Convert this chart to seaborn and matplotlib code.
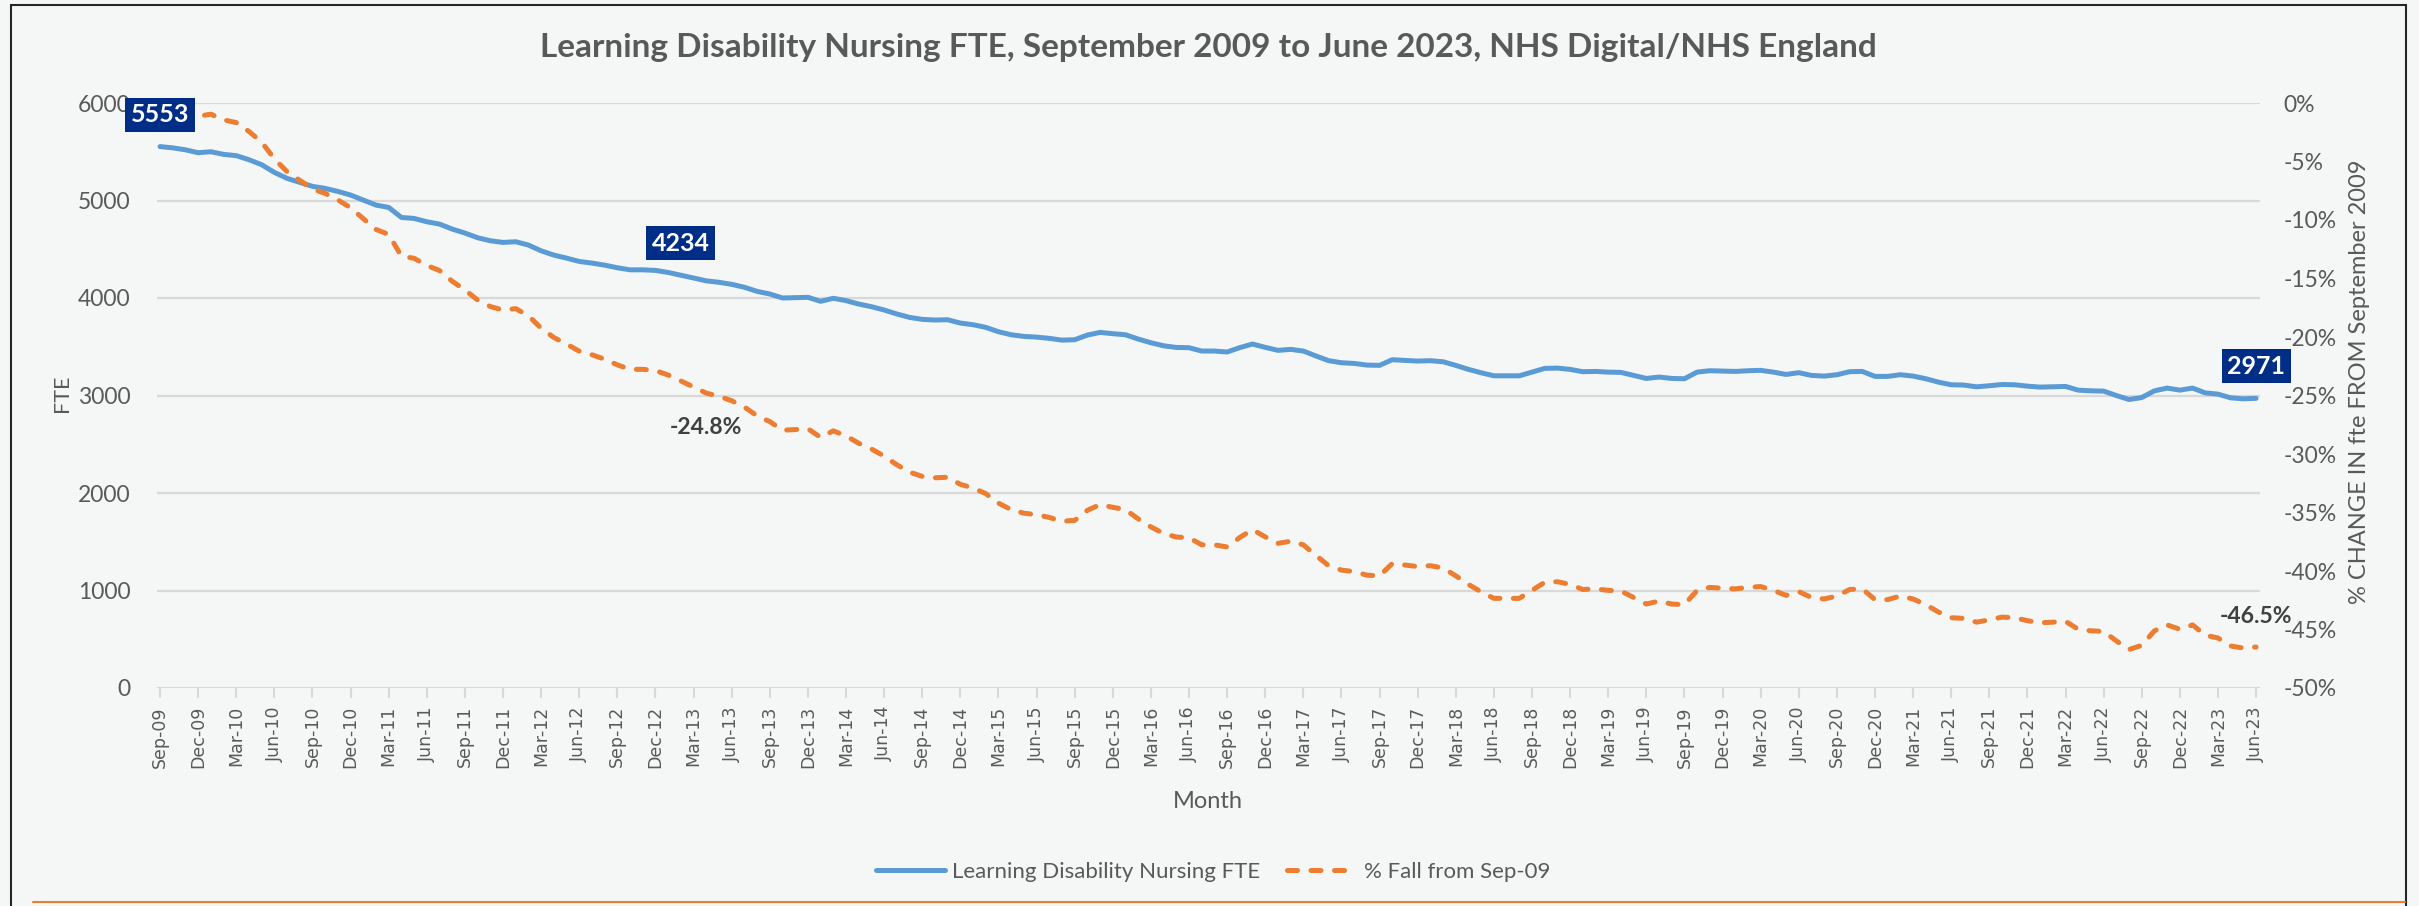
import numpy as np
import pandas as pd
import matplotlib
matplotlib.use("Agg")
import matplotlib.pyplot as plt
import seaborn as sns
from matplotlib.lines import Line2D
from matplotlib.patches import Rectangle

# ── DATA (monthly, Sep-09 .. Jun-23) ─────────────────────────────
fte = [
    5553, 5540, 5520, 5490, 5500, 5473, 5460, 5418, 5367, 5288, 5227, 5186,
    5145, 5124, 5093, 5056, 5004, 4953, 4929, 4826, 4816, 4782, 4758, 4707,
    4666, 4618, 4587, 4570, 4577, 4543, 4484, 4440, 4409, 4375, 4358, 4337,
    4310, 4289, 4289, 4283, 4262, 4234, 4205, 4176, 4161, 4140, 4110, 4068,
    4041, 4000, 4003, 4007, 3966, 3997, 3973, 3938, 3911, 3877, 3836, 3801,
    3781, 3774, 3777, 3743, 3726, 3699, 3654, 3623, 3606, 3599, 3586, 3568,
    3572, 3620, 3647, 3634, 3623, 3579, 3541, 3510, 3493, 3490, 3456, 3456,
    3446, 3491, 3528, 3494, 3463, 3473, 3456, 3405, 3357, 3336, 3329, 3312,
    3309, 3367, 3360, 3353, 3357, 3346, 3309, 3268, 3233, 3202, 3202, 3202,
    3240, 3278, 3281, 3268, 3244, 3247, 3240, 3237, 3206, 3175, 3189, 3175,
    3172, 3240, 3254, 3250, 3247, 3254, 3258, 3240, 3216, 3234, 3206, 3199,
    3213, 3244, 3247, 3196, 3196, 3213, 3199, 3172, 3137, 3110, 3107, 3089,
    3100, 3113, 3110, 3096, 3086, 3089, 3093, 3055, 3048, 3045, 3000, 2959,
    2979, 3048, 3076, 3055, 3076, 3027, 3014, 2976, 2966, 2971,
]
months = pd.date_range("2009-09-01", "2023-06-01", freq="MS").strftime("%b-%y").tolist()
# % fall from Sep-09 is the FTE series relative to its first month
pct_fall = [(v / fte[0] - 1) * 100 for v in fte]

fte_labels = {0: "5553", 41: "4234", 165: "2971"}
pct_labels = {43: "-24.8%", 165: "-46.5%"}

df = pd.DataFrame({"idx": range(len(fte)), "month": months,
                   "fte": fte, "pct": pct_fall})

# ── STYLE ────────────────────────────────────────────────────────
BLUE = "#5B9BD5"
ORANGE = "#ED7D31"
NAVY = "#002E87"
GREY = "#595959"
GRID = "#D9D9D9"
BG = "#F5F7F7"
DASH = (0, (2.0, 2.7))

sns.set_theme(style="white")
plt.rcParams["font.family"] = ["Lato", "DejaVu Sans"]

W, H = 2419, 906
fig = plt.figure(figsize=(W / 100, H / 100), dpi=100, facecolor=BG)
ax = fig.add_axes([157 / W, 1 - 688 / H, (2260 - 157) / W, (688 - 103) / H])
ax.set_facecolor(BG)

# ── LINES ────────────────────────────────────────────────────────
sns.lineplot(data=df, x="idx", y="fte", ax=ax, color=BLUE, lw=3.6,
             legend=False, zorder=3)
ax.lines[0].set_solid_capstyle("round")

ax2 = ax.twinx()
sns.lineplot(data=df, x="idx", y="pct", ax=ax2, color=ORANGE, lw=3.6,
             linestyle=DASH, legend=False, zorder=3)
ax2.lines[0].set_dash_capstyle("round")

# ── AXES ─────────────────────────────────────────────────────────
ax.set_xlim(-0.24, 165.31)
ax.set_ylim(0, 6000)
ax.set_yticks(range(0, 6001, 1000))
ax.grid(axis="y", color=GRID, lw=1.6)
ax.grid(axis="x", visible=False)
ax.set_xticks(range(0, len(months), 3))
ax.set_xticklabels(months[::3], rotation=90, family="DejaVu Sans",
                   fontsize=12.5, color=GREY)
ax.tick_params(axis="x", length=7, width=1.5, color=GRID, pad=6, bottom=True)
ax.tick_params(axis="y", length=0, pad=19, labelsize=16.5, labelcolor=GREY)
ax.set_xlabel("")
ax.set_ylabel("")

ax2.set_ylim(-50, 0)
ax2.set_yticks(range(-50, 1, 5))
ax2.set_yticklabels([f"{v}%" for v in range(-50, 1, 5)])
ax2.tick_params(axis="y", length=0, pad=17, labelsize=16.5, labelcolor=GREY)
ax2.set_ylabel("")
ax2.grid(False)

for a in (ax, ax2):
    for s in a.spines.values():
        s.set_visible(False)

# ── DATA LABELS (on top axes so boxes sit over both lines) ───────
for i, txt in fte_labels.items():
    ax2.annotate(txt, xy=(i, fte[i]), xycoords=ax.transData,
                 xytext=(0, 23), textcoords="offset points",
                 ha="center", va="center", color="white", fontweight="bold",
                 fontsize=18, zorder=5,
                 bbox=dict(boxstyle="square,pad=0.22", fc=NAVY, ec="none"))

for i, txt in pct_labels.items():
    dy = -25 if i == 43 else 22
    ax2.annotate(txt, xy=(i, pct_fall[i]), xytext=(0, dy), textcoords="offset points",
                 ha="center", va="center", color="#404040", fontweight="bold",
                 fontsize=16.5, zorder=5)

# ── TEXT ─────────────────────────────────────────────────────────
fig.text(1208 / W, 1 - 48 / H,
         "Learning Disability Nursing FTE, September 2009 to June 2023, NHS Digital/NHS England",
         ha="center", va="center", fontsize=24, fontweight="bold", color=GREY)
fig.text(1208 / W, 1 - 801 / H, "Month", ha="center", va="center",
         fontsize=17, color=GREY)
fig.text(62 / W, 1 - 393 / H, "FTE", ha="center", va="center",
         rotation=90, fontsize=15.5, color=GREY)
fig.text(2360 / W, 1 - 382 / H, "% CHANGE IN fte FROM September 2009",
         ha="center", va="center", rotation=90, fontsize=17, color=GREY)

# ── LEGEND ───────────────────────────────────────────────────────
handles = [
    Line2D([], [], color=BLUE, lw=3.6, solid_capstyle="round"),
    Line2D([], [], color=ORANGE, lw=3.6, linestyle=DASH, dash_capstyle="round"),
]
fig.legend(handles, ["Learning Disability Nursing FTE", "% Fall from Sep-09"],
           loc="center", bbox_to_anchor=(1213 / W, 1 - 872 / H), ncol=2,
           frameon=False, fontsize=16, handlelength=3.1, handletextpad=0.35,
           columnspacing=1.2, labelcolor=GREY)

# ── FRAME ────────────────────────────────────────────────────────
fig.add_artist(Rectangle((11 / W, -0.05), (2406 - 11) / W, 1.05 - 5 / H,
                         fill=False, ec="#262626", lw=1.5,
                         transform=fig.transFigure))
fig.add_artist(Line2D([33 / W, 2405 / W], [1 - 902 / H] * 2,
                      color=ORANGE, lw=1.5, transform=fig.transFigure))

fig.savefig("out.png", dpi=100, facecolor=fig.get_facecolor())
